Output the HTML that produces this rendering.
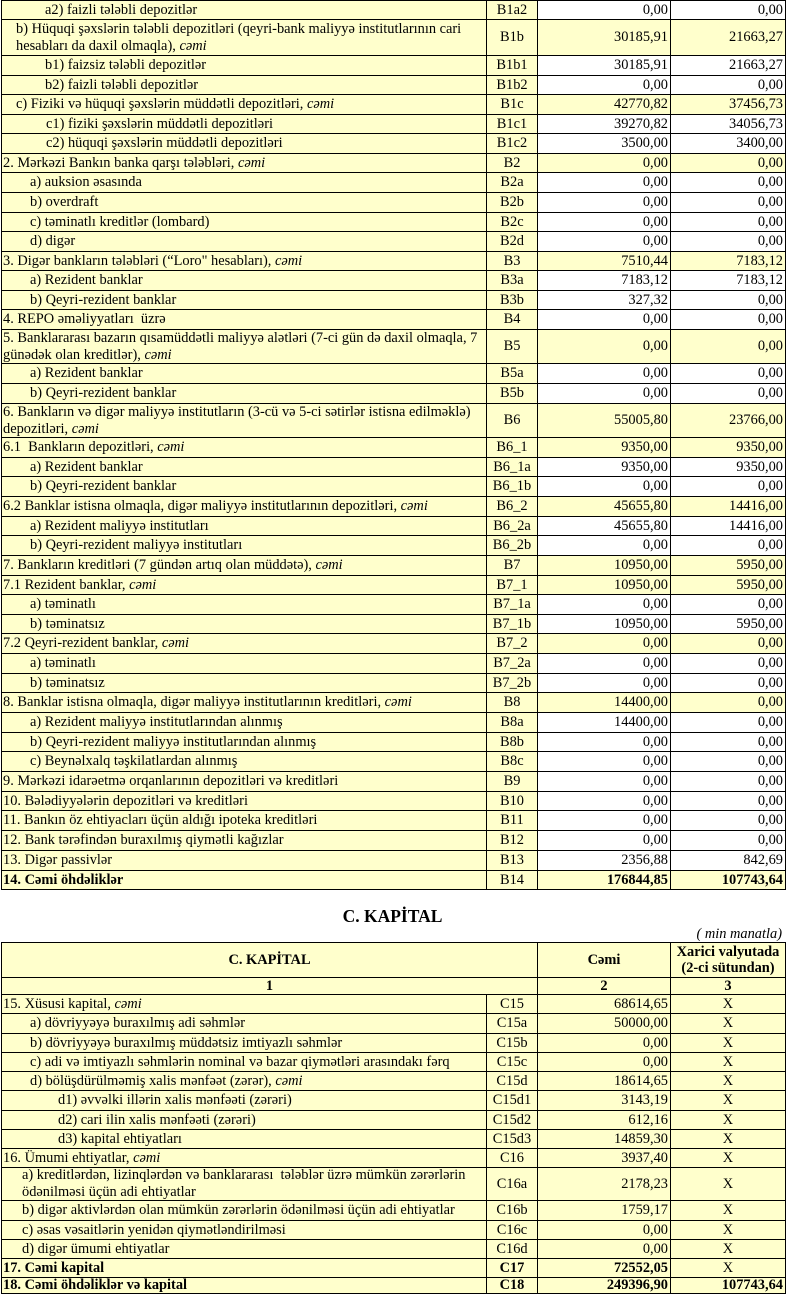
<!DOCTYPE html>
<html>
<head>
<meta charset="utf-8">
<style>
html,body{margin:0;padding:0}
body{width:800px;height:1294px;position:relative;background:#fff;font-family:"Liberation Serif","DejaVu Serif",serif;font-size:14.4px;line-height:17px;color:#000;overflow:hidden}
.r{position:absolute;left:0;width:800px}
.r>div{position:absolute;top:0;bottom:-1px;border:1px solid #000;box-sizing:border-box;display:flex;align-items:center;white-space:nowrap;overflow:hidden;background:#ffffcc}
.l{left:1px;width:486px}
.c{left:486px;width:52px;justify-content:center}
.a{left:537px;width:134px;justify-content:flex-end;padding-right:2px}
.b{left:670px;width:116px;justify-content:flex-end;padding-right:2px}
.L{left:1px;width:537px;justify-content:center}
.x{justify-content:center;padding-right:0}
.cc{justify-content:center;padding-right:0}
.r>div.w{background:#fff}
.bd>div{font-weight:bold}
.i0{padding-left:1px}
.i1{padding-left:14px}
.i1b{padding-left:28px}
.i2{padding-left:28px}
.i3{padding-left:43px}
.i3b{padding-left:44px}
.i4{padding-left:56px}
.ib{padding-left:20px}
.t{position:absolute;left:0;width:785px;top:906px;text-align:center;font-weight:bold;font-size:17.5px;line-height:20px}
.u{position:absolute;right:18px;top:926px;font-style:italic;white-space:nowrap}
</style>
</head>
<body>

<div class="r" style="top:0px;height:19px"><div class="l i3"><span>a2) faizli tələbli depozitlər</span></div><div class="c">B1a2</div><div class="a w">0,00</div><div class="b w">0,00</div></div>
<div class="r" style="top:19px;height:36px"><div class="l i1"><span>b) Hüquqi şəxslərin tələbli depozitləri (qeyri-bank maliyyə institutlarının cari<br>hesabları da daxil olmaqla), <i>cəmi</i></span></div><div class="c">B1b</div><div class="a">30185,91</div><div class="b">21663,27</div></div>
<div class="r" style="top:55px;height:20px"><div class="l i3"><span>b1) faizsiz tələbli depozitlər</span></div><div class="c">B1b1</div><div class="a w">30185,91</div><div class="b w">21663,27</div></div>
<div class="r" style="top:75px;height:19px"><div class="l i3"><span>b2) faizli tələbli depozitlər</span></div><div class="c">B1b2</div><div class="a w">0,00</div><div class="b w">0,00</div></div>
<div class="r" style="top:94px;height:20px"><div class="l i1"><span>c) Fiziki və hüquqi şəxslərin müddətli depozitləri, <i>cəmi</i></span></div><div class="c">B1c</div><div class="a">42770,82</div><div class="b">37456,73</div></div>
<div class="r" style="top:114px;height:19px"><div class="l i3b"><span>c1) fiziki şəxslərin müddətli depozitləri</span></div><div class="c">B1c1</div><div class="a w">39270,82</div><div class="b w">34056,73</div></div>
<div class="r" style="top:133px;height:20px"><div class="l i3b"><span>c2) hüquqi şəxslərin müddətli depozitləri</span></div><div class="c">B1c2</div><div class="a w">3500,00</div><div class="b w">3400,00</div></div>
<div class="r" style="top:153px;height:19px"><div class="l i0"><span>2. Mərkəzi Bankın banka qarşı tələbləri, <i>cəmi</i></span></div><div class="c">B2</div><div class="a">0,00</div><div class="b">0,00</div></div>
<div class="r" style="top:172px;height:20px"><div class="l i1b"><span>a) auksion əsasında</span></div><div class="c">B2a</div><div class="a w">0,00</div><div class="b w">0,00</div></div>
<div class="r" style="top:192px;height:20px"><div class="l i1b"><span>b) overdraft</span></div><div class="c">B2b</div><div class="a w">0,00</div><div class="b w">0,00</div></div>
<div class="r" style="top:212px;height:19px"><div class="l i1b"><span>c) təminatlı kreditlər (lombard)</span></div><div class="c">B2c</div><div class="a w">0,00</div><div class="b w">0,00</div></div>
<div class="r" style="top:231px;height:20px"><div class="l i1b"><span>d) digər</span></div><div class="c">B2d</div><div class="a w">0,00</div><div class="b w">0,00</div></div>
<div class="r" style="top:251px;height:19px"><div class="l i0"><span>3. Digər bankların tələbləri (“Loro" hesabları), <i>cəmi</i></span></div><div class="c">B3</div><div class="a">7510,44</div><div class="b">7183,12</div></div>
<div class="r" style="top:270px;height:20px"><div class="l i2"><span>a) Rezident banklar</span></div><div class="c">B3a</div><div class="a w">7183,12</div><div class="b w">7183,12</div></div>
<div class="r" style="top:290px;height:19px"><div class="l i2"><span>b) Qeyri-rezident banklar</span></div><div class="c">B3b</div><div class="a w">327,32</div><div class="b w">0,00</div></div>
<div class="r" style="top:309px;height:20px"><div class="l i0"><span>4. REPO əməliyyatları &nbsp;üzrə</span></div><div class="c">B4</div><div class="a w">0,00</div><div class="b w">0,00</div></div>
<div class="r" style="top:329px;height:34px"><div class="l i0"><span>5. Banklararası bazarın qısamüddətli maliyyə alətləri (7-ci gün də daxil olmaqla, 7<br>günədək olan kreditlər), <i>cəmi</i></span></div><div class="c">B5</div><div class="a">0,00</div><div class="b">0,00</div></div>
<div class="r" style="top:363px;height:20px"><div class="l i2"><span>a) Rezident banklar</span></div><div class="c">B5a</div><div class="a w">0,00</div><div class="b w">0,00</div></div>
<div class="r" style="top:383px;height:20px"><div class="l i2"><span>b) Qeyri-rezident banklar</span></div><div class="c">B5b</div><div class="a w">0,00</div><div class="b w">0,00</div></div>
<div class="r" style="top:403px;height:34px"><div class="l i0"><span>6. Bankların və digər maliyyə institutların (3-cü və 5-ci sətirlər istisna edilməklə)<br>depozitləri, <i>cəmi</i></span></div><div class="c">B6</div><div class="a">55005,80</div><div class="b">23766,00</div></div>
<div class="r" style="top:437px;height:20px"><div class="l i0"><span>6.1 &nbsp;Bankların depozitləri, <i>cəmi</i></span></div><div class="c">B6_1</div><div class="a">9350,00</div><div class="b">9350,00</div></div>
<div class="r" style="top:457px;height:19px"><div class="l i2"><span>a) Rezident banklar</span></div><div class="c">B6_1a</div><div class="a w">9350,00</div><div class="b w">9350,00</div></div>
<div class="r" style="top:476px;height:20px"><div class="l i2"><span>b) Qeyri-rezident banklar</span></div><div class="c">B6_1b</div><div class="a w">0,00</div><div class="b w">0,00</div></div>
<div class="r" style="top:496px;height:20px"><div class="l i0"><span>6.2 Banklar istisna olmaqla, digər maliyyə institutlarının depozitləri, <i>cəmi</i></span></div><div class="c">B6_2</div><div class="a">45655,80</div><div class="b">14416,00</div></div>
<div class="r" style="top:516px;height:19px"><div class="l i2"><span>a) Rezident maliyyə institutları</span></div><div class="c">B6_2a</div><div class="a w">45655,80</div><div class="b w">14416,00</div></div>
<div class="r" style="top:535px;height:20px"><div class="l i2"><span>b) Qeyri-rezident maliyyə institutları</span></div><div class="c">B6_2b</div><div class="a w">0,00</div><div class="b w">0,00</div></div>
<div class="r" style="top:555px;height:20px"><div class="l i0"><span>7. Bankların kreditləri (7 gündən artıq olan müddətə), <i>cəmi</i></span></div><div class="c">B7</div><div class="a">10950,00</div><div class="b">5950,00</div></div>
<div class="r" style="top:575px;height:19px"><div class="l i0"><span>7.1 Rezident banklar, <i>cəmi</i></span></div><div class="c">B7_1</div><div class="a">10950,00</div><div class="b">5950,00</div></div>
<div class="r" style="top:594px;height:20px"><div class="l i2"><span>a) təminatlı</span></div><div class="c">B7_1a</div><div class="a w">0,00</div><div class="b w">0,00</div></div>
<div class="r" style="top:614px;height:19px"><div class="l i2"><span>b) təminatsız</span></div><div class="c">B7_1b</div><div class="a w">10950,00</div><div class="b w">5950,00</div></div>
<div class="r" style="top:633px;height:20px"><div class="l i0"><span>7.2 Qeyri-rezident banklar, <i>cəmi</i></span></div><div class="c">B7_2</div><div class="a">0,00</div><div class="b">0,00</div></div>
<div class="r" style="top:653px;height:20px"><div class="l i2"><span>a) təminatlı</span></div><div class="c">B7_2a</div><div class="a w">0,00</div><div class="b w">0,00</div></div>
<div class="r" style="top:673px;height:19px"><div class="l i2"><span>b) təminatsız</span></div><div class="c">B7_2b</div><div class="a w">0,00</div><div class="b w">0,00</div></div>
<div class="r" style="top:692px;height:20px"><div class="l i0"><span>8. Banklar istisna olmaqla, digər maliyyə institutlarının kreditləri, <i>cəmi</i></span></div><div class="c">B8</div><div class="a">14400,00</div><div class="b">0,00</div></div>
<div class="r" style="top:712px;height:20px"><div class="l i2"><span>a) Rezident maliyyə institutlarından alınmış</span></div><div class="c">B8a</div><div class="a w">14400,00</div><div class="b w">0,00</div></div>
<div class="r" style="top:732px;height:19px"><div class="l i2"><span>b) Qeyri-rezident maliyyə institutlarından alınmış</span></div><div class="c">B8b</div><div class="a w">0,00</div><div class="b w">0,00</div></div>
<div class="r" style="top:751px;height:20px"><div class="l i2"><span>c) Beynəlxalq təşkilatlardan alınmış</span></div><div class="c">B8c</div><div class="a w">0,00</div><div class="b w">0,00</div></div>
<div class="r" style="top:771px;height:20px"><div class="l i0"><span>9. Mərkəzi idarəetmə orqanlarının depozitləri və kreditləri</span></div><div class="c">B9</div><div class="a w">0,00</div><div class="b w">0,00</div></div>
<div class="r" style="top:791px;height:19px"><div class="l i0"><span>10. Bələdiyyələrin depozitləri və kreditləri</span></div><div class="c">B10</div><div class="a w">0,00</div><div class="b w">0,00</div></div>
<div class="r" style="top:810px;height:20px"><div class="l i0"><span>11. Bankın öz ehtiyacları üçün aldığı ipoteka kreditləri</span></div><div class="c">B11</div><div class="a w">0,00</div><div class="b w">0,00</div></div>
<div class="r" style="top:830px;height:20px"><div class="l i0"><span>12. Bank tərəfindən buraxılmış qiymətli kağızlar</span></div><div class="c">B12</div><div class="a w">0,00</div><div class="b w">0,00</div></div>
<div class="r" style="top:850px;height:20px"><div class="l i0"><span>13. Digər passivlər</span></div><div class="c">B13</div><div class="a w">2356,88</div><div class="b w">842,69</div></div>
<div class="r bd" style="top:870px;height:19px"><div class="l i0"><span>14. Cəmi öhdəliklər</span></div><div class="c" style="font-weight:normal">B14</div><div class="a">176844,85</div><div class="b">107743,64</div></div>

<div class="t">C. KAPİTAL</div>
<div class="u">( min manatla)</div>

<div class="r bd" style="top:942px;height:35px"><div class="L">C. KAPİTAL</div><div class="a cc">Cəmi</div><div class="b cc" style="line-height:16.5px;text-align:center"><span>Xarici valyutada<br>(2-ci sütundan)</span></div></div>
<div class="r bd" style="top:977px;height:17px"><div class="L">1</div><div class="a cc">2</div><div class="b cc">3</div></div>
<div class="r" style="top:994px;height:19px"><div class="l i0"><span>15. Xüsusi kapital, <i>cəmi</i></span></div><div class="c">C15</div><div class="a">68614,65</div><div class="b x">X</div></div>
<div class="r" style="top:1013px;height:20px"><div class="l i2"><span>a) dövriyyəyə buraxılmış adi səhmlər</span></div><div class="c">C15a</div><div class="a">50000,00</div><div class="b x">X</div></div>
<div class="r" style="top:1033px;height:19px"><div class="l i2"><span>b) dövriyyəyə buraxılmış müddətsiz imtiyazlı səhmlər</span></div><div class="c">C15b</div><div class="a">0,00</div><div class="b x">X</div></div>
<div class="r" style="top:1052px;height:19px"><div class="l i2"><span>c) adi və imtiyazlı səhmlərin nominal və bazar qiymətləri arasındakı fərq</span></div><div class="c">C15c</div><div class="a">0,00</div><div class="b x">X</div></div>
<div class="r" style="top:1071px;height:19px"><div class="l i2"><span>d) bölüşdürülməmiş xalis mənfəət (zərər), <i>cəmi</i></span></div><div class="c">C15d</div><div class="a">18614,65</div><div class="b x">X</div></div>
<div class="r" style="top:1090px;height:20px"><div class="l i4"><span>d1) əvvəlki illərin xalis mənfəəti (zərəri)</span></div><div class="c">C15d1</div><div class="a">3143,19</div><div class="b x">X</div></div>
<div class="r" style="top:1110px;height:19px"><div class="l i4"><span>d2) cari ilin xalis mənfəəti (zərəri)</span></div><div class="c">C15d2</div><div class="a">612,16</div><div class="b x">X</div></div>
<div class="r" style="top:1129px;height:19px"><div class="l i4"><span>d3) kapital ehtiyatları</span></div><div class="c">C15d3</div><div class="a">14859,30</div><div class="b x">X</div></div>
<div class="r" style="top:1148px;height:19px"><div class="l i0"><span>16. Ümumi ehtiyatlar, <i>cəmi</i></span></div><div class="c">C16</div><div class="a">3937,40</div><div class="b x">X</div></div>
<div class="r" style="top:1167px;height:33px"><div class="l ib"><span>a) kreditlərdən, lizinqlərdən və banklararası &nbsp;tələblər üzrə mümkün zərərlərin<br>ödənilməsi üçün adi ehtiyatlar</span></div><div class="c">C16a</div><div class="a">2178,23</div><div class="b x">X</div></div>
<div class="r" style="top:1200px;height:20px"><div class="l ib"><span>b) digər aktivlərdən olan mümkün zərərlərin ödənilməsi üçün adi ehtiyatlar</span></div><div class="c">C16b</div><div class="a">1759,17</div><div class="b x">X</div></div>
<div class="r" style="top:1220px;height:19px"><div class="l ib"><span>c) əsas vəsaitlərin yenidən qiymətləndirilməsi</span></div><div class="c">C16c</div><div class="a">0,00</div><div class="b x">X</div></div>
<div class="r" style="top:1239px;height:19px"><div class="l ib"><span>d) digər ümumi ehtiyatlar</span></div><div class="c">C16d</div><div class="a">0,00</div><div class="b x">X</div></div>
<div class="r bd" style="top:1258px;height:19px"><div class="l i0"><span>17. Cəmi kapital</span></div><div class="c">C17</div><div class="a">72552,05</div><div class="b x" style="font-weight:normal">X</div></div>
<div class="r bd" style="top:1277px;height:16px"><div class="l i0"><span>18. Cəmi öhdəliklər və kapital</span></div><div class="c">C18</div><div class="a">249396,90</div><div class="b">107743,64</div></div>

</body>
</html>
